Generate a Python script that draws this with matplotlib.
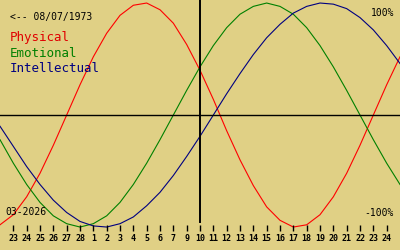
import numpy as np
import matplotlib
matplotlib.use("Agg")
import matplotlib.pyplot as plt

# biorhythm values (%) per day, 23 Feb .. 25 Mar, today (10 Mar) in the middle
physical = [-98, -89, -73, -52, -27, 0, 27, 52, 73, 89, 98, 100, 94, 82, 63, 40,
            14, -14, -40, -63, -82, -94, -100, -98, -89, -73, -52, -27, 0, 27, 52]
emotional = [-22, -43, -62, -78, -90, -97, -100, -97, -90, -78, -62, -43, -22, 0, 22, 43,
             62, 78, 90, 97, 100, 97, 90, 78, 62, 43, 22, 0, -22, -43, -62]
intellectual = [-10, -28, -46, -62, -76, -87, -95, -99, -100, -97, -91, -81, -69, -54, -37, -19,
                0, 19, 37, 54, 69, 81, 91, 97, 100, 99, 95, 87, 76, 62, 46]

# day labels (the 8th is missing in the original)
day_labels = ["23", "24", "25", "26", "27", "28", "1", "2", "3", "4", "5", "6", "7",
              "9", "10", "11", "12", "13", "14", "15", "16", "17", "18", "19", "20",
              "21", "22", "23", "24"]

birth = "<-- 08/07/1973"
month = "03-2026"

bg = "#e0d085"
mono = "DejaVu Sans Mono"

fig = plt.figure(figsize=(4, 2.5), dpi=100)
fig.patch.set_facecolor(bg)
ax = fig.add_axes([0, 0, 1, 1])
ax.set_facecolor(bg)
ax.set_xlim(0, 30)
ax.set_ylim(-120.5, 102.7)
ax.axis("off")

days = np.arange(len(physical))
ax.plot(days, physical, color="#ff0000", lw=0.8)
ax.plot(days, emotional, color="#008000", lw=0.8)
ax.plot(days, intellectual, color="#000080", lw=0.8)

# axes cross
ax.axhline(0, color="black", lw=1)
ax.axvline(15, ymin=(250 - 222) / 250, ymax=1, color="black", lw=1.4)

# day ticks along the bottom
tick_x = np.arange(1, len(day_labels) + 1)
tr = ax.get_xaxis_transform()
ax.vlines(tick_x, (250 - 231) / 250, (250 - 225) / 250, transform=tr, color="black", lw=1)
for x, lab in zip(tick_x, day_labels):
    ax.text(x, (250 - 241) / 250, lab, transform=tr, ha="center", va="baseline",
            fontsize=6, family=mono, fontweight="bold", color="black")


def px(x, y):
    return x / 400, (250 - y) / 250


ax.text(*px(10, 20), birth, transform=ax.transAxes, fontsize=7, family=mono,
        va="baseline", ha="left", color="black")
ax.text(*px(10, 41.5), "Physical", transform=ax.transAxes, fontsize=9, family=mono,
        va="baseline", ha="left", color="#e00000")
ax.text(*px(10, 57), "Emotional", transform=ax.transAxes, fontsize=9, family=mono,
        va="baseline", ha="left", color="#008000")
ax.text(*px(10, 72.5), "Intellectual", transform=ax.transAxes, fontsize=9, family=mono,
        va="baseline", ha="left", color="#000080")
ax.text(*px(394, 16), "100%", transform=ax.transAxes, fontsize=7, family=mono,
        va="baseline", ha="right", color="black")
ax.text(*px(394, 216), "-100%", transform=ax.transAxes, fontsize=7, family=mono,
        va="baseline", ha="right", color="black")
ax.text(*px(5, 215), month, transform=ax.transAxes, fontsize=7, family=mono,
        va="baseline", ha="left", color="black")

fig.savefig("out.png", dpi=100, facecolor=bg)
